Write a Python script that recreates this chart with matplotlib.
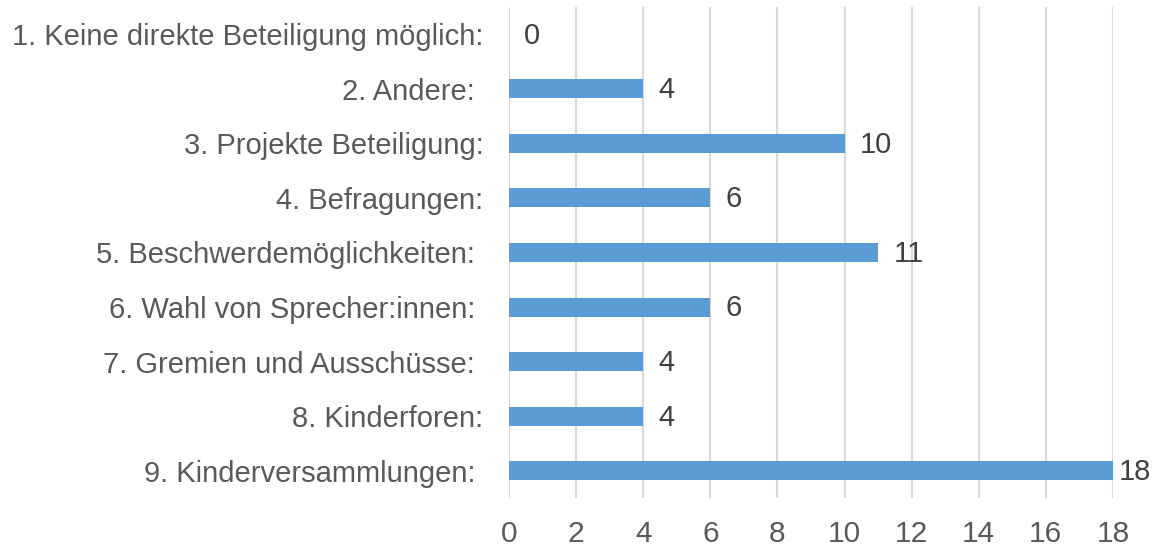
import matplotlib.pyplot as plt

# Data
labels = [
    "1. Keine direkte Beteiligung möglich:",
    "2. Andere: ",
    "3. Projekte Beteiligung:",
    "4. Befragungen:",
    "5. Beschwerdemöglichkeiten: ",
    "6. Wahl von Sprecher:innen: ",
    "7. Gremien und Ausschüsse: ",
    "8. Kinderforen:",
    "9. Kinderversammlungen: ",
]
values = [0, 4, 10, 6, 11, 6, 4, 4, 18]
x_ticks = [0, 2, 4, 6, 8, 10, 12, 14, 16, 18]

bar_color = "#5B9BD5"
text_color = "#595959"
label_color = "#404040"
grid_color = "#D9D9D9"

plt.rcParams['font.family'] = ['Liberation Sans', 'DejaVu Sans']

fig = plt.figure(figsize=(11.58, 5.47), dpi=100)
ax = fig.add_axes([0.4396, 0.0896, 0.5215, 0.8976])

pos = list(range(len(labels)))
ax.barh(pos, values, height=0.35, color=bar_color, zorder=3)

# labels next to the bars; the last one is squeezed so it stays inside
for p, v in zip(pos, values):
    off = 11 if v < max(values) else 4
    ax.annotate(str(v), (v, p), xytext=(off, -1), textcoords="offset points",
                va="center", ha="left", fontsize=21, color=label_color,
                annotation_clip=False)

ax.set_xlim(0, 18)
ax.set_ylim(len(labels) - 0.5, -0.5)
ax.set_xticks(x_ticks)
ax.set_yticks(pos)
ax.set_yticklabels(labels)
ax.tick_params(axis="y", length=0, pad=18.5, labelsize=21, labelcolor=text_color)
ax.tick_params(axis="x", length=0, pad=16, labelsize=21.5, labelcolor=text_color)

ax.grid(axis="x", color=grid_color, linewidth=1.5, zorder=0)
for s in ax.spines.values():
    s.set_visible(False)

plt.savefig("out.png", dpi=100)
plt.close()
